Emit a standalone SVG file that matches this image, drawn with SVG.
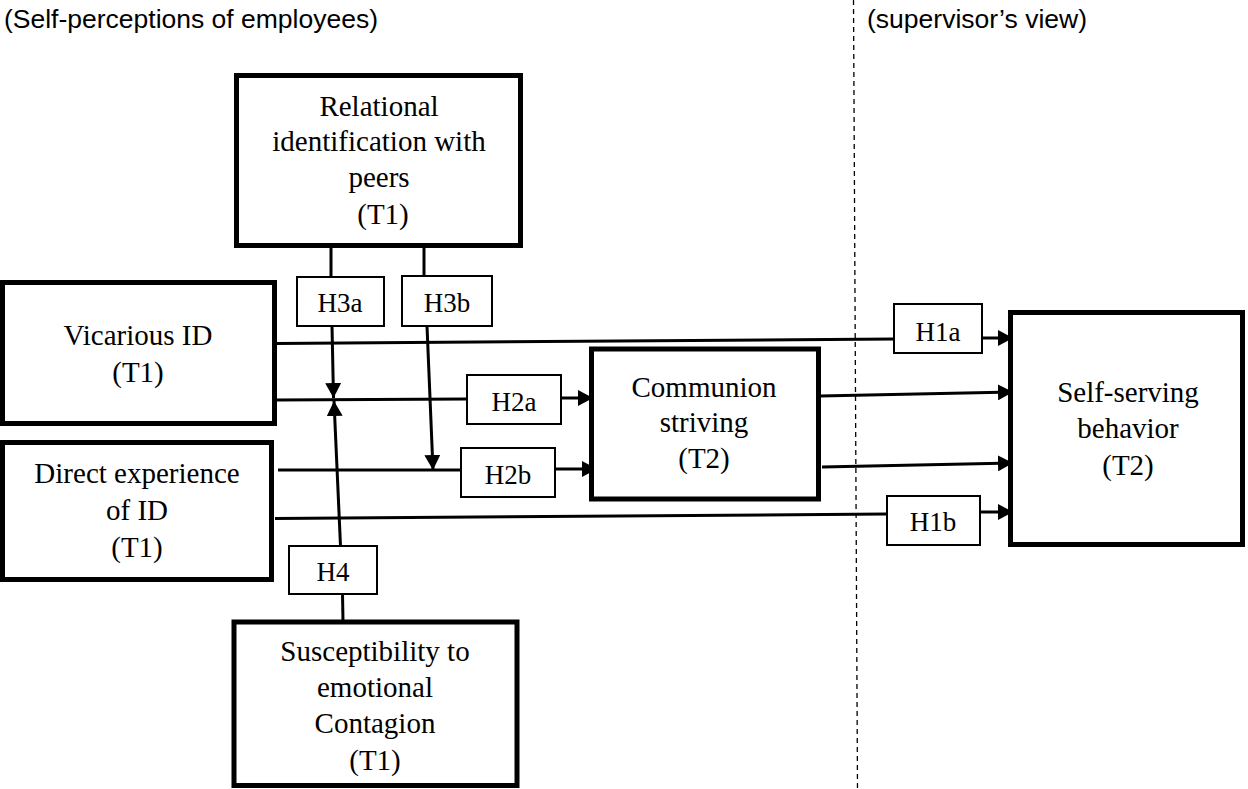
<svg xmlns="http://www.w3.org/2000/svg" width="1248" height="789" viewBox="0 0 1248 789">
<style>
.box{fill:#fff;stroke:#000;stroke-width:5}
.hbox{fill:#fff;stroke:#000;stroke-width:2}
.t{font-family:"Liberation Serif","Times New Roman",serif;font-size:29px;fill:#000;text-anchor:middle}
.h{font-family:"Liberation Serif","Times New Roman",serif;font-size:27px;fill:#000;text-anchor:middle}
.s{font-family:"Liberation Sans",Arial,sans-serif;font-size:25.5px;fill:#000}
.c{stroke:#000;stroke-width:3;fill:none}
.a{marker-end:url(#arr)}
</style>
<defs>
<marker id="arr" markerUnits="userSpaceOnUse" markerWidth="16" markerHeight="16" refX="15" refY="8" orient="auto">
<path d="M0,0 L15,8 L0,16 Z" fill="#000"/>
</marker>
</defs>
<rect width="1248" height="789" fill="#fff"/>
<text class="s" x="4" y="28" textLength="374" lengthAdjust="spacingAndGlyphs">(Self-perceptions of employees)</text>
<text class="s" x="867" y="28" textLength="220" lengthAdjust="spacingAndGlyphs">(supervisor’s view)</text>
<line x1="853.5" y1="0" x2="857.5" y2="789" stroke="#000" stroke-width="1.3" stroke-dasharray="5,4"/>
<g id="connectors">
<line class="c" x1="331" y1="247" x2="331" y2="277"/>
<line class="c a" x1="332" y1="326" x2="333.5" y2="398"/>
<line class="c" x1="424" y1="247" x2="424" y2="276"/>
<line class="c a" x1="427" y1="326" x2="433" y2="470"/>
<line class="c" x1="276" y1="343.5" x2="894" y2="339"/>
<line class="c a" x1="982" y1="338" x2="1013" y2="338"/>
<line class="c" x1="276" y1="400" x2="467" y2="399"/>
<line class="c a" x1="561" y1="398" x2="593" y2="398"/>
<line class="c" x1="278" y1="470" x2="461" y2="470"/>
<line class="c a" x1="555" y1="469" x2="597" y2="469"/>
<line class="c" x1="275" y1="518.5" x2="887" y2="514"/>
<line class="c a" x1="980" y1="512" x2="1013" y2="512"/>
<line class="c a" x1="820" y1="396" x2="1013" y2="392"/>
<line class="c a" x1="822" y1="467" x2="1013" y2="463"/>
<line class="c a" x1="340.5" y1="546" x2="334" y2="401"/>
<line class="c" x1="342.5" y1="594" x2="343" y2="621"/>
</g>
<g id="relational">
<rect class="box" x="236.5" y="75.5" width="284" height="170"/>
<text class="t" x="379" y="116">Relational</text>
<text class="t" x="379" y="151">identification with</text>
<text class="t" x="379" y="187">peers</text>
<text class="t" x="383" y="224">(T1)</text>
</g>
<g id="vicarious">
<rect class="box" x="2.5" y="282.5" width="272" height="141"/>
<text class="t" x="138" y="345">Vicarious ID</text>
<text class="t" x="138" y="382">(T1)</text>
</g>
<g id="direct">
<rect class="box" x="2.5" y="442.5" width="269" height="137"/>
<text class="t" x="137" y="483">Direct experience</text>
<text class="t" x="137" y="520">of ID</text>
<text class="t" x="137" y="557">(T1)</text>
</g>
<g id="communion">
<rect class="box" x="591.5" y="349" width="227" height="150"/>
<text class="t" x="704" y="397">Communion</text>
<text class="t" x="704" y="432">striving</text>
<text class="t" x="704" y="468">(T2)</text>
</g>
<g id="selfserving">
<rect class="box" x="1010.5" y="312.5" width="232" height="232"/>
<text class="t" x="1128" y="402">Self-serving</text>
<text class="t" x="1128" y="438">behavior</text>
<text class="t" x="1128" y="475">(T2)</text>
</g>
<g id="susceptibility">
<rect class="box" x="234" y="622" width="283" height="163.5"/>
<text class="t" x="375" y="661">Susceptibility to</text>
<text class="t" x="375" y="697">emotional</text>
<text class="t" x="375" y="733">Contagion</text>
<text class="t" x="375" y="770">(T1)</text>
</g>
<g id="H3a"><rect class="hbox" x="297" y="277" width="87" height="49"/><text class="h" x="340" y="312">H3a</text></g>
<g id="H3b"><rect class="hbox" x="402" y="276" width="90" height="50"/><text class="h" x="447" y="312">H3b</text></g>
<g id="H2a"><rect class="hbox" x="467" y="375" width="94" height="49"/><text class="h" x="514" y="411">H2a</text></g>
<g id="H2b"><rect class="hbox" x="461" y="448" width="94" height="49"/><text class="h" x="508" y="484">H2b</text></g>
<g id="H1a"><rect class="hbox" x="894" y="304" width="88" height="49"/><text class="h" x="938" y="341">H1a</text></g>
<g id="H1b"><rect class="hbox" x="887" y="496" width="93" height="49"/><text class="h" x="933" y="531">H1b</text></g>
<g id="H4"><rect class="hbox" x="289" y="546" width="88" height="48"/><text class="h" x="333" y="581">H4</text></g>
</svg>
